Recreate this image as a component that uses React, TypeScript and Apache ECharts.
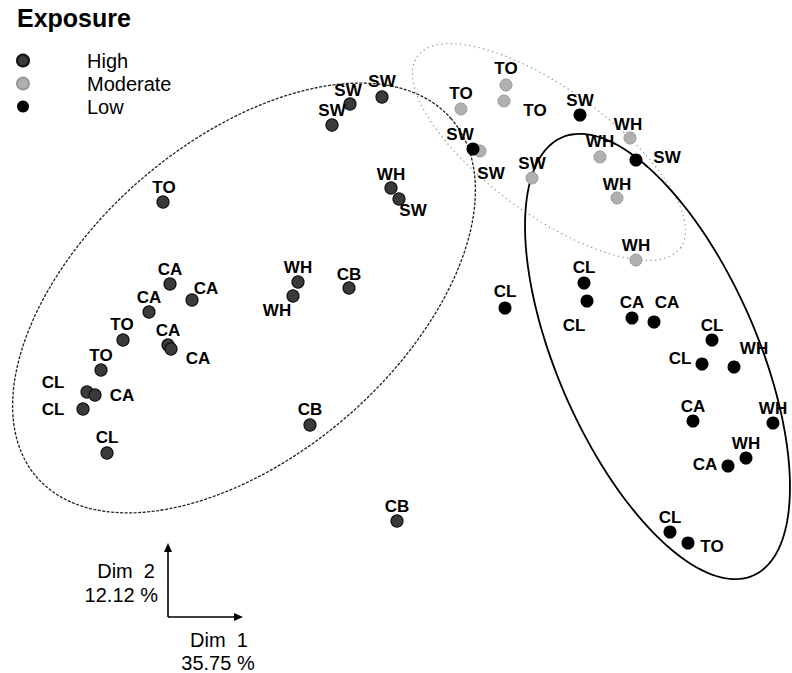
import React, { useEffect, useRef } from "react";
import * as echarts from "echarts";

// Dim 1 / Dim 2 coordinates of each observation, by exposure group
const highNames = ["TO", "CA", "CA", "CA", "TO", "CA", "CA", "TO", "CL", "CA", "CL", "CL", "WH", "WH", "CB", "CB", "CB", "SW", "SW", "SW", "WH", "SW"];
const highDim1 = [-2.37, -2.3, -2.08, -2.51, -2.77, -2.32, -2.29, -2.99, -3.13, -3.05, -3.17, -2.93, -1.02, -1.07, -0.51, -0.9, -0.03, -0.68, -0.5, -0.18, -0.09, -0.01];
const highDim2 = [1.98, 1.16, 1.0, 0.88, 0.6, 0.55, 0.51, 0.3, 0.08, 0.05, -0.09, -0.53, 1.18, 1.04, 1.12, -0.25, -1.21, 2.75, 2.96, 3.03, 2.12, 2.01];

const moderateNames = ["TO", "TO", "TO", "SW", "SW", "WH", "WH", "WH", "WH"];
const moderateDim1 = [0.61, 1.06, 1.04, 0.8, 1.32, 2.3, 2.0, 2.17, 2.36];
const moderateDim2 = [2.91, 3.15, 2.99, 2.49, 2.22, 2.62, 2.43, 2.02, 1.4];

const lowNames = ["SW", "SW", "SW", "CL", "CL", "CL", "CA", "CA", "CL", "CL", "WH", "CA", "WH", "WH", "CA", "CL", "TO"];
const lowDim1 = [1.8, 2.36, 0.73, 1.05, 1.84, 1.87, 2.32, 2.54, 3.12, 3.02, 3.34, 2.93, 3.73, 3.46, 3.28, 2.7, 2.88];
const lowDim2 = [2.85, 2.4, 2.51, 0.92, 1.17, 0.99, 0.82, 0.78, 0.6, 0.36, 0.33, -0.21, -0.23, -0.58, -0.66, -1.32, -1.43];

// Label placements (pixel offsets from each point)
const highLabelOffsets = [[1, -15], [0, -15], [14, -12], [0, -15], [-1, -16], [0, -15], [27, 9], [0, -15], [-34, -10], [27, 0], [-30, 0], [0, -16], [0, -15], [-16, 14], [0, -14], [0, -16], [0, -15], [0, -15], [-2, -14], [0, -16], [0, -14], [14, 11]];
const moderateLabelOffsets = [[0, -16], [0, -17], [31, 9], [11, 22], [0, -15], [-2, -14], [0, -16], [0, -14], [0, -15]];
const lowLabelOffsets = [[0, -15], [31, -3], [-13, -15], [0, -17], [0, -16], [-13, 24], [0, -16], [13, -20], [0, -15], [-22, -6], [20, -19], [0, -15], [0, -15], [0, -15], [-23, -2], [0, -15], [24, 3]];

// Confidence ellipses: centre, semi-axes (Dim units), rotation (degrees)
const ellipseGroups = ["High", "Moderate", "Low"];
const ellipseCx = [-1.56, 1.49, 2.575];
const ellipseCy = [1.02, 2.48, 0.435];
const ellipseA = [2.74, 1.627, 2.39];
const ellipseB = [1.57, 0.627, 1.0];
const ellipseAngle = [40.8, -36.1, -66.4];

const groupLabels = ["High", "Moderate", "Low"];
const dimTexts = ["Dim  1", "35.75 %", "Dim  2", "12.12 %"];

const FONT = "'Liberation Sans', Arial, Helvetica, sans-serif";

function buildPoints(names: string[], d1: number[], d2: number[], offs: number[][]) {
  return names.map((n, i) => ({
    name: n,
    value: [d1[i], d2[i]],
    label: { offset: offs[i] },
  }));
}

export default function App() {
  const ref = useRef<HTMLDivElement>(null);
  useEffect(() => {
    document.body.style.margin = "0";
    const chart = echarts.init(ref.current!, null, { renderer: "svg" });
    const ellipseStyles = [
      { stroke: "#222222", lineWidth: 1.3, lineDash: [3, 1.5] },
      { stroke: "#8a8a8a", lineWidth: 1.2, lineDash: [1.2, 3.5] },
      { stroke: "#000000", lineWidth: 1.8, lineDash: null },
    ];
    const labelCfg = {
      show: true,
      position: "inside",
      formatter: "{b}",
      color: "#000",
      textBorderWidth: 0,
      textBorderColor: "transparent",
      fontFamily: FONT,
      fontSize: 17,
      fontWeight: "bold",
    };
    const option: any = {
      animation: false,
      backgroundColor: "#fff",
      title: {
        text: "Exposure",
        left: 17,
        top: 5,
        padding: 0,
        textStyle: { fontFamily: FONT, fontSize: 25, fontWeight: "bold", color: "#000" },
      },
      legend: {
        orient: "vertical",
        left: 16,
        top: 50,
        padding: 0,
        itemWidth: 12,
        itemHeight: 12,
        itemGap: 2,
        icon: "circle",
        data: groupLabels,
        textStyle: { fontFamily: FONT, fontSize: 20, color: "#000", lineHeight: 21, padding: [0, 0, 0, 53] },
      },
      grid: { left: 0, right: 0, top: 0, bottom: 0 },
      xAxis: { type: "value", min: -4, max: 3.92, show: false },
      yAxis: { type: "value", min: -2.73, max: 4, show: false },
      series: [
        {
          type: "custom",
          silent: true,
          z: 1,
          data: ellipseGroups.map((g, i) => ({ name: g, value: [ellipseCx[i], ellipseCy[i]] })),
          renderItem: (params: any, api: any) => {
            const i = params.dataIndex;
            const ang = (ellipseAngle[i] * Math.PI) / 180;
            const ca = Math.cos(ang), sa = Math.sin(ang);
            const pts: number[][] = [];
            for (let k = 0; k <= 180; k++) {
              const t = (k / 180) * Math.PI * 2;
              const ex = ellipseA[i] * Math.cos(t);
              const ey = ellipseB[i] * Math.sin(t);
              pts.push(api.coord([ellipseCx[i] + ex * ca - ey * sa, ellipseCy[i] + ex * sa + ey * ca]));
            }
            const s = ellipseStyles[i];
            return {
              type: "polyline",
              shape: { points: pts },
              style: { fill: "none", stroke: s.stroke, lineWidth: s.lineWidth, lineDash: s.lineDash },
            };
          },
        },
        {
          type: "scatter",
          name: "High",
          symbolSize: 12,
          z: 3,
          itemStyle: { color: "#3a3a3a", borderColor: "#111", borderWidth: 1.2, opacity: 1 },
          label: labelCfg,
          data: buildPoints(highNames, highDim1, highDim2, highLabelOffsets),
        },
        {
          type: "scatter",
          name: "Moderate",
          symbolSize: 12,
          z: 3,
          itemStyle: { color: "#b0b0b0", borderColor: "#999", borderWidth: 1, opacity: 1 },
          label: labelCfg,
          data: buildPoints(moderateNames, moderateDim1, moderateDim2, moderateLabelOffsets),
        },
        {
          type: "scatter",
          name: "Low",
          symbolSize: 13,
          z: 3,
          itemStyle: { color: "#000", opacity: 1 },
          label: labelCfg,
          data: buildPoints(lowNames, lowDim1, lowDim2, lowLabelOffsets),
        },
      ],
      graphic: [
        { type: "line", shape: { x1: 168, y1: 550, x2: 168, y2: 617 }, style: { stroke: "#000", lineWidth: 1.6 } },
        { type: "line", shape: { x1: 168, y1: 617, x2: 236, y2: 617 }, style: { stroke: "#000", lineWidth: 1.6 } },
        { type: "polygon", shape: { points: [[164, 552], [168, 543], [172, 552]] }, style: { fill: "#000" } },
        { type: "polygon", shape: { points: [[234, 613], [243, 617], [234, 621]] }, style: { fill: "#000" } },
        { type: "text", x: 155, y: 571, style: { text: dimTexts[2], fontFamily: FONT, fontSize: 20, fill: "#000", align: "right", verticalAlign: "middle" } },
        { type: "text", x: 158, y: 595, style: { text: dimTexts[3], fontFamily: FONT, fontSize: 20, fill: "#000", align: "right", verticalAlign: "middle" } },
        { type: "text", x: 219, y: 640, style: { text: dimTexts[0], fontFamily: FONT, fontSize: 20, fill: "#000", align: "center", verticalAlign: "middle" } },
        { type: "text", x: 218, y: 663, style: { text: dimTexts[1], fontFamily: FONT, fontSize: 20, fill: "#000", align: "center", verticalAlign: "middle" } },
      ],
    };
    chart.setOption(option);
    return () => chart.dispose();
  }, []);
  return <div ref={ref} style={{ width: 792, height: 673 }} />;
}
